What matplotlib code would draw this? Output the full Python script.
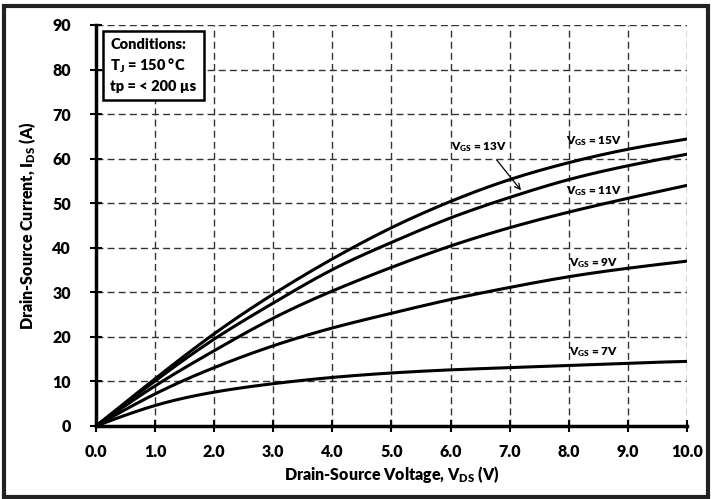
import numpy as np
import matplotlib.pyplot as plt
from matplotlib.patches import Rectangle

# drain-source voltage (V)
vds = [0.0, 1.0, 2.0, 3.0, 4.0, 5.0, 6.0, 7.0, 8.0, 9.0, 10.0]

# drain current (A) for each gate voltage
ids_15 = [0.0, 10.6, 20.7, 29.6, 37.5, 44.5, 50.4, 55.3, 59.1, 62.1, 64.4]
ids_13 = [0.0, 10.1, 19.5, 27.6, 35.1, 41.2, 46.7, 51.3, 55.3, 58.4, 61.0]
ids_11 = [0.0, 9.0, 16.9, 24.2, 30.3, 35.6, 40.4, 44.5, 48.0, 51.1, 54.0]
ids_9 = [0.0, 7.2, 13.1, 18.0, 22.0, 25.3, 28.4, 31.1, 33.5, 35.4, 37.0]
ids_7 = [0.0, 4.6, 7.6, 9.5, 10.9, 11.9, 12.6, 13.1, 13.6, 14.1, 14.5]

curves = [ids_15, ids_13, ids_11, ids_9, ids_7]

xticks = np.arange(0, 10.5, 1.0)
yticks = np.arange(0, 91, 10)


def spline(x, y, xs):
    # natural cubic spline through the read points
    x = np.asarray(x, float)
    y = np.asarray(y, float)
    n = len(x)
    h = np.diff(x)
    A = np.zeros((n, n))
    b = np.zeros(n)
    A[0, 0] = 1
    A[-1, -1] = 1
    for i in range(1, n - 1):
        A[i, i - 1] = h[i - 1]
        A[i, i] = 2 * (h[i - 1] + h[i])
        A[i, i + 1] = h[i]
        b[i] = 3 * ((y[i + 1] - y[i]) / h[i] - (y[i] - y[i - 1]) / h[i - 1])
    c = np.linalg.solve(A, b)
    idx = np.clip(np.searchsorted(x, xs) - 1, 0, n - 2)
    dx = xs - x[idx]
    bb = (y[idx + 1] - y[idx]) / h[idx] - h[idx] * (2 * c[idx] + c[idx + 1]) / 3
    d = (c[idx + 1] - c[idx]) / (3 * h[idx])
    return y[idx] + bb * dx + c[idx] * dx ** 2 + d * dx ** 3


plt.rcParams['font.family'] = ['Lato', 'DejaVu Sans']
plt.rcParams['font.weight'] = 'heavy'
plt.rcParams['axes.labelweight'] = 'heavy'
plt.rcParams['mathtext.fontset'] = 'custom'
plt.rcParams['mathtext.rm'] = 'Lato:heavy'
plt.rcParams['mathtext.bf'] = 'Lato:heavy'
plt.rcParams['mathtext.it'] = 'Lato:heavy'

fig = plt.figure(figsize=(7.12, 4.99), dpi=100)
ax = fig.add_axes([0.1348, 0.1463, 0.8301, 0.8037])

xs = np.linspace(0, 10, 300)
for c in curves:
    ax.plot(xs, spline(vds, c, xs), color='black', lw=2.2, zorder=3)

ax.set_xlim(0, 10)
ax.set_ylim(0, 90)
ax.set_xticks(xticks)
ax.set_yticks(yticks)
ax.set_xticklabels(['%.1f' % t for t in xticks])
ax.tick_params(direction='inout', length=8, width=1.5, labelsize=11.5, pad=9)
ax.tick_params(axis='y', pad=14)

ax.grid(True, color='#333333', ls=(0, (5, 3)), lw=1.0)
ax.spines['top'].set_visible(False)
ax.spines['right'].set_visible(False)
ax.spines['left'].set_linewidth(2.5)
ax.spines['bottom'].set_linewidth(2.5)

ax.set_xlabel(r'Drain-Source Voltage, V$_{\mathrm{DS}}$ (V)', fontsize=11.5,
              fontweight='heavy', labelpad=3)
ax.set_ylabel(r'Drain-Source Current, I$_{\mathrm{DS}}$ (A)', fontsize=11.5,
              fontweight='heavy', labelpad=10)

lab_kw = dict(fontsize=8.5, zorder=5)
ax.text(7.95, 63.2, r'V$_{\mathrm{GS}}$ = 15V', **lab_kw)
ax.text(6.0, 62.0, r'V$_{\mathrm{GS}}$ = 13V', **lab_kw)
ax.text(7.95, 52.0, r'V$_{\mathrm{GS}}$ = 11V', **lab_kw)
ax.text(8.0, 35.8, r'V$_{\mathrm{GS}}$ = 9V', **lab_kw)
ax.text(8.0, 15.9, r'V$_{\mathrm{GS}}$ = 7V', **lab_kw)
ax.annotate('', xy=(7.22, 52.4), xytext=(6.75, 60.2),
            arrowprops=dict(arrowstyle='->', color='black', lw=0.9))

ax.text(0.24, 87.0, 'Conditions:\nT$_{\\mathrm{J}}$ = 150 °C\ntp = < 200 µs',
        fontsize=10.5, va='top', ha='left', linespacing=1.4,
        bbox=dict(boxstyle='square,pad=0.5', fc='white', ec='black', lw=1.8),
        zorder=6)

fig.patches.append(Rectangle((0.006, 0.004), 0.988, 0.984, transform=fig.transFigure,
                             fill=False, ec='#222222', lw=3))

fig.savefig('out.png', dpi=100)
